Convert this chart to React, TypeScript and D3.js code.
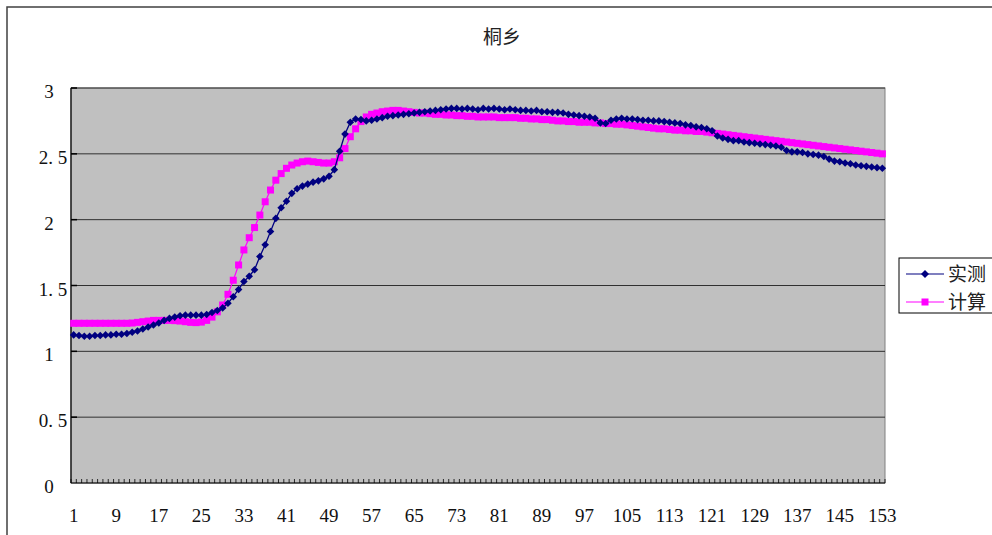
import * as d3 from "d3";

// 桐乡 — measured vs computed, 153 samples
const categories: number[] = Array.from({ length: 153 }, (_, i) => i + 1);

const shice: number[] = [
  1.125, 1.12, 1.115, 1.115, 1.12, 1.12, 1.125, 1.125, 1.13, 1.13,
  1.135, 1.145, 1.155, 1.17, 1.185, 1.2, 1.215, 1.235, 1.25, 1.26,
  1.27, 1.275, 1.275, 1.275, 1.275, 1.28, 1.295, 1.31, 1.33, 1.365,
  1.415, 1.47, 1.53, 1.57, 1.62, 1.72, 1.81, 1.91, 2.01, 2.09,
  2.14, 2.2, 2.235, 2.255, 2.27, 2.285, 2.295, 2.31, 2.33, 2.38,
  2.52, 2.65, 2.74, 2.765, 2.76, 2.75, 2.755, 2.765, 2.775, 2.785,
  2.79, 2.795, 2.8, 2.805, 2.81, 2.815, 2.82, 2.825, 2.83, 2.835,
  2.84, 2.845, 2.845, 2.84, 2.845, 2.84, 2.835, 2.845, 2.84, 2.845,
  2.84, 2.835, 2.84, 2.835, 2.83, 2.83, 2.825, 2.83, 2.82, 2.82,
  2.815, 2.815, 2.81, 2.8, 2.795, 2.79, 2.785, 2.78, 2.77, 2.735,
  2.73, 2.755, 2.765, 2.77, 2.765, 2.765, 2.76, 2.755, 2.755, 2.75,
  2.75, 2.745, 2.74, 2.735, 2.73, 2.72, 2.715, 2.705, 2.7, 2.69,
  2.675, 2.635, 2.62, 2.61, 2.6, 2.6, 2.59, 2.585, 2.58, 2.575,
  2.57, 2.565, 2.56, 2.55, 2.525, 2.515, 2.515, 2.51, 2.5, 2.495,
  2.49, 2.48, 2.46, 2.445, 2.44, 2.43, 2.425, 2.415, 2.41, 2.405,
  2.4, 2.395, 2.39,
];

const jisuan: number[] = [
  1.213, 1.213, 1.213, 1.213, 1.213, 1.213, 1.213, 1.213, 1.213, 1.213,
  1.213, 1.215, 1.22, 1.225, 1.23, 1.235, 1.235, 1.235, 1.235, 1.233,
  1.23, 1.225, 1.22, 1.218, 1.222, 1.235, 1.26, 1.3, 1.352, 1.433,
  1.54, 1.656, 1.77, 1.863, 1.94, 2.035, 2.136, 2.225, 2.3, 2.35,
  2.39, 2.415, 2.43, 2.44, 2.445, 2.44, 2.435, 2.43, 2.43, 2.44,
  2.47, 2.54, 2.63, 2.69, 2.745, 2.78, 2.8, 2.81, 2.82, 2.825,
  2.83, 2.83, 2.825, 2.82, 2.815, 2.81, 2.81, 2.805, 2.8, 2.8,
  2.795, 2.795, 2.79, 2.79, 2.785, 2.785, 2.78, 2.78, 2.78, 2.78,
  2.775, 2.775, 2.775, 2.775, 2.77, 2.77, 2.765, 2.765, 2.76, 2.76,
  2.755, 2.75, 2.75, 2.745, 2.745, 2.74, 2.74, 2.74, 2.735, 2.735,
  2.73, 2.73, 2.725, 2.725, 2.72, 2.715, 2.71, 2.705, 2.7, 2.695,
  2.69, 2.69, 2.685, 2.68, 2.68, 2.675, 2.675, 2.67, 2.67, 2.665,
  2.66, 2.655, 2.65, 2.645, 2.64, 2.635, 2.63, 2.625, 2.62, 2.615,
  2.61, 2.605, 2.6, 2.595, 2.59, 2.585, 2.58, 2.575, 2.57, 2.565,
  2.56, 2.555, 2.55, 2.545, 2.54, 2.535, 2.53, 2.525, 2.52, 2.515,
  2.51, 2.505, 2.5,
];

const yTicks: number[] = [0, 0.5, 1, 1.5, 2, 2.5, 3];
const xLabelEvery = 8;
const title = "桐乡";
const seriesNames = ["实测", "计算"];

const W = 992;
const H = 535;
const plot = { left: 71, right: 885, top: 88, bottom: 483 };
const serif = "'Liberation Serif', 'DejaVu Serif', serif";
const cjk = "'Noto Sans CJK SC', sans-serif";

export default function App() {
  const x = d3.scaleBand<number>().domain(categories).range([plot.left, plot.right]).padding(0);
  const y = d3.scaleLinear().domain([0, 3]).range([plot.bottom, plot.top]);
  const cx = (c: number) => (x(c) ?? 0) + x.bandwidth() / 2;

  const line = d3
    .line<number>()
    .x((_, i) => cx(categories[i]))
    .y((d) => y(d));

  const fmt = (v: number) => (Number.isInteger(v) ? String(v) : d3.format(".1f")(v).replace(".", ". "));

  const diamond = (px: number, py: number, r: number) =>
    `M${px},${py - r}L${px + r},${py}L${px},${py + r}L${px - r},${py}Z`;

  // tick boundaries for every category
  const bounds = categories.map((c) => x(c) ?? 0).concat([plot.right]);

  return (
    <svg
      width={W}
      height={H}
      style={{ position: "absolute", left: 0, top: 0, background: "#fff" }}
    >
      <rect x={7} y={7} width={1000} height={545} fill="#fff" stroke="#404040" strokeWidth={1.5} />

      <text x={502} y={44} textAnchor="middle" fontFamily={cjk} fontSize={19} fill="#222">
        {title}
      </text>

      {/* plot area */}
      <rect
        x={plot.left}
        y={plot.top}
        width={plot.right - plot.left}
        height={plot.bottom - plot.top}
        fill="#C0C0C0"
        stroke="#808080"
        strokeWidth={1}
      />

      {yTicks.slice(1).map((t) => (
        <g key={t}>
          <line x1={plot.left} x2={plot.right} y1={y(t)} y2={y(t)} stroke="#303030" strokeWidth={1} />
          <line x1={plot.left} x2={plot.left + 6} y1={y(t)} y2={y(t)} stroke="#000" strokeWidth={1.5} />
        </g>
      ))}

      {yTicks.map((t) => (
        <text
          key={`yl-${t}`}
          x={Number.isInteger(t) ? 49 : 53}
          y={y(t) + 10}
          textAnchor="middle"
          fontFamily={serif}
          fontSize={19}
          fill="#111"
        >
          {fmt(t)}
        </text>
      ))}

      {/* axes */}
      <line x1={plot.left} x2={plot.left} y1={plot.top} y2={plot.bottom} stroke="#000" strokeWidth={1.2} />
      <line x1={plot.left} x2={plot.right} y1={plot.bottom} y2={plot.bottom} stroke="#000" strokeWidth={1.2} />
      {bounds.map((b, i) => (
        <line key={`xt-${i}`} x1={b} x2={b} y1={plot.bottom} y2={plot.bottom - 4} stroke="#000" strokeWidth={0.8} />
      ))}

      {categories
        .filter((c) => (c - 1) % xLabelEvery === 0)
        .map((c) => (
          <text key={`xl-${c}`} x={cx(c)} y={522} textAnchor="middle" fontFamily={serif} fontSize={19} fill="#111">
            {c}
          </text>
        ))}

      {/* computed series (magenta) */}
      <path d={line(jisuan) ?? ""} fill="none" stroke="#FF00FF" strokeWidth={1.2} />
      {jisuan.map((v, i) => (
        <rect key={`j-${i}`} x={cx(categories[i]) - 3.5} y={y(v) - 3.5} width={7} height={7} fill="#FF00FF" />
      ))}

      {/* measured series (navy) */}
      <path d={line(shice) ?? ""} fill="none" stroke="#000080" strokeWidth={1.3} />
      {shice.map((v, i) => (
        <path key={`s-${i}`} d={diamond(cx(categories[i]), y(v), 3.8)} fill="#000080" />
      ))}

      {/* legend */}
      <rect x={899} y={258} width={100} height={55} fill="#fff" stroke="#000" strokeWidth={1} />
      <line x1={906} x2={944} y1={274} y2={274} stroke="#000080" strokeWidth={1.2} />
      <path d={diamond(925, 274, 4)} fill="#000080" />
      <text x={948} y={281} fontFamily={cjk} fontSize={19} fill="#222">
        {seriesNames[0]}
      </text>
      <line x1={906} x2={944} y1={302} y2={302} stroke="#FF00FF" strokeWidth={1.2} />
      <rect x={921.5} y={298.5} width={7} height={7} fill="#FF00FF" />
      <text x={948} y={309} fontFamily={cjk} fontSize={19} fill="#222">
        {seriesNames[1]}
      </text>
    </svg>
  );
}
